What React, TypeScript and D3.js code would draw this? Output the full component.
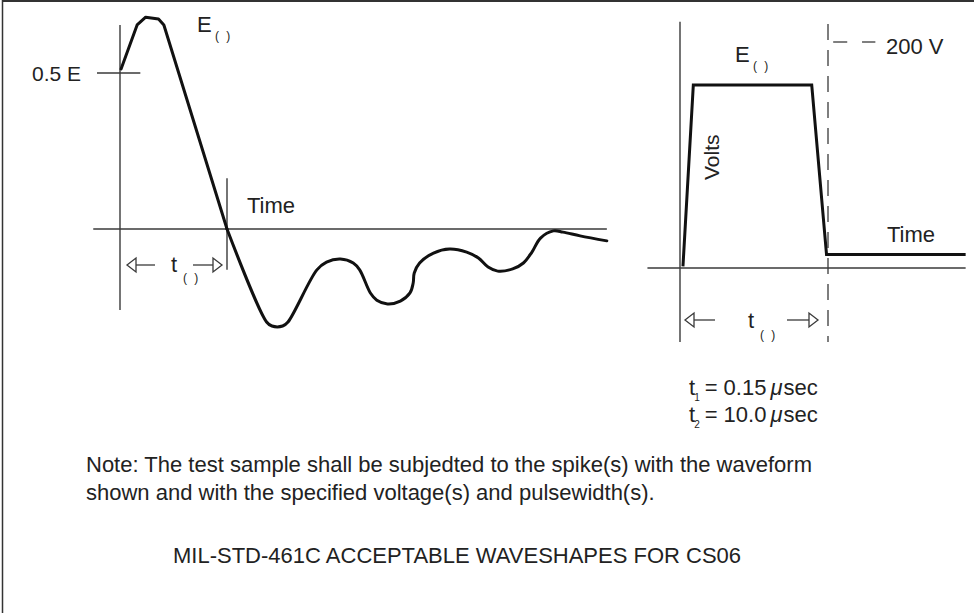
import React from "react";
import * as d3 from "d3";

// ---- Left waveform (damped oscillatory spike), time in units where t(1) crossing = 10, volts where 0.5E = 50
const leftTime = [0.1, 1.6, 2.4, 3.6, 4.1, 10, 13.7, 14.2, 15.2, 15.7, 18.4, 19.3, 20.6, 21.8, 22.4, 23.4, 24.0, 25.0, 26.2, 27.1, 27.4, 27.5, 28.0, 29.3, 30.8, 32.4, 33.5, 34.4, 35.3, 36.7, 37.7, 38.5, 39.3, 40.5, 41.4, 43.0, 45.5];
const leftVolts = [51.3, 65.4, 67.9, 67.3, 65.4, 0, -29.8, -31.1, -31.1, -29.8, -13.1, -10.6, -9.6, -10.9, -13.1, -20.5, -22.8, -24.0, -23.1, -20.5, -17.3, -14.1, -10.9, -7.7, -6.4, -7.4, -9.3, -12.2, -13.5, -12.8, -10.9, -7.4, -2.9, -0.6, -1.0, -2.2, -3.8];
// index where the straight-edged spike ends and the smooth ringing begins (zero crossing)
const ringStart = 5;

// ---- Right waveform (rectangular pulse), time in units where t(2) = 10, volts where dashed level = 200 V
const pulseTime = [0.2, 0.9, 8.9, 9.9, 19.3];
const pulseVolts = [1.5, 162, 162, 12, 12];

const leftLabels = { half: "0.5 E", E: "E", time: "Time", t: "t" };
const rightLabels = { E: "E", level: "200 V", volts: "Volts", time: "Time", t: "t" };
const specNames = ["t", "t"];
const specSubs = ["1", "2"];
const specValues = ["0.15", "10.0"];
const noteLines = [
  "Note: The test sample shall be subjedted to the spike(s) with the waveform",
  "shown and with the specified voltage(s) and pulsewidth(s).",
];
const title = "MIL-STD-461C ACCEPTABLE WAVESHAPES FOR CS06";

const FONT = "'Liberation Sans', Arial, Helvetica, sans-serif";
const INK = "#222";
const AXIS = "#3a3a3a";
const W = 974;
const H = 613;

function ArrowL({ tip, end, y }: { tip: number; end: number; y: number }) {
  const base = tip + 9;
  return (
    <g stroke={AXIS} strokeWidth={1.3} fill="#fff">
      <line x1={base} x2={end} y1={y} y2={y} />
      <path d={`M${tip},${y} L${base},${y - 7} L${base},${y + 7} Z`} />
    </g>
  );
}
function ArrowR({ tip, start, y }: { tip: number; start: number; y: number }) {
  const base = tip - 9;
  return (
    <g stroke={AXIS} strokeWidth={1.3} fill="#fff">
      <line x1={start} x2={base} y1={y} y2={y} />
      <path d={`M${tip},${y} L${base},${y - 7} L${base},${y + 7} Z`} />
    </g>
  );
}
function Sub({ x, y }: { x: number; y: number }) {
  return (
    <text x={x} y={y} fontSize={12} letterSpacing={2} fill={INK}>( )</text>
  );
}

export default function App() {
  const xL = d3.scaleLinear().domain([0, 10]).range([120, 227]);
  const yL = d3.scaleLinear().domain([0, 50]).range([229, 73]);
  const xR = d3.scaleLinear().domain([0, 10]).range([680, 828]);
  const yR = d3.scaleLinear().domain([0, 200]).range([268, 42]);

  const leftPts: [number, number][] = leftTime.map((t, i) => [xL(t), yL(leftVolts[i])]);
  const rightPts: [number, number][] = pulseTime.map((t, i) => [xR(t), yR(pulseVolts[i])]);
  const spikePath = d3.line()(leftPts.slice(0, ringStart + 1)) || "";
  const ringPath = d3.line().curve(d3.curveCatmullRom.alpha(0.5))(leftPts.slice(ringStart)) || "";
  const rightPath = d3.line()(rightPts) || "";

  const fs = 22;

  return (
    <svg
      width={W}
      height={H}
      viewBox={`0 0 ${W} ${H}`}
      style={{ position: "absolute", left: 0, top: 0, background: "#fff" }}
      fontFamily={FONT}
    >
      <rect x={0} y={0} width={W} height={H} fill="#fff" />
      {/* frame */}
      <line x1={2} x2={W} y1={1} y2={1} stroke="#333" strokeWidth={2} />
      <line x1={2.5} x2={2.5} y1={0} y2={H} stroke="#333" strokeWidth={1.5} />

      {/* ---------- left panel ---------- */}
      <g stroke={AXIS} strokeWidth={1.4}>
        <line x1={xL(0)} x2={xL(0)} y1={yL(65.4)} y2={yL(-26)} />
        <line x1={xL(-2.5)} x2={xL(45.5)} y1={yL(0)} y2={yL(0)} />
        <line x1={xL(-2.15)} x2={xL(1.9)} y1={yL(50)} y2={yL(50)} />
        <line x1={xL(10)} x2={xL(10)} y1={yL(16.3)} y2={yL(-13.1)} />
      </g>
      <g fill="none" stroke="#111" strokeWidth={3} strokeLinejoin="round" strokeLinecap="round">
        <path d={spikePath} />
        <path d={ringPath} />
      </g>

      <text x={32} y={81} fontSize={21} fill={INK}>{leftLabels.half}</text>
      <text x={197} y={32} fontSize={fs} fill={INK}>{leftLabels.E}</text>
      <Sub x={215} y={40} />
      <text x={247} y={213} fontSize={fs} fill={INK}>{leftLabels.time}</text>
      <text x={171} y={272} fontSize={fs} fill={INK}>{leftLabels.t}</text>
      <Sub x={183} y={282} />
      <ArrowL tip={xL(0) + 7} end={155} y={265} />
      <ArrowR tip={xL(10) - 5} start={193} y={265} />

      {/* ---------- right panel ---------- */}
      <g stroke={AXIS} strokeWidth={1.4}>
        <line x1={xR(0)} x2={xR(0)} y1={yR(218)} y2={yR(-65.5)} />
        <line x1={xR(-2.2)} x2={xR(19.3)} y1={yR(0)} y2={yR(0)} />
      </g>
      <g stroke={AXIS} strokeWidth={1.3} strokeDasharray="16,10">
        <line x1={xR(10)} x2={xR(10)} y1={yR(216)} y2={yR(-65.5)} />
      </g>
      <g stroke={AXIS} strokeWidth={1.3}>
        <line x1={xR(10.35)} x2={xR(11.3)} y1={yR(200)} y2={yR(200)} />
        <line x1={xR(12.3)} x2={xR(13.2)} y1={yR(200)} y2={yR(200)} />
      </g>
      <path d={rightPath} fill="none" stroke="#111" strokeWidth={3} strokeLinejoin="miter" />

      <text x={735} y={62} fontSize={fs} fill={INK}>{rightLabels.E}</text>
      <Sub x={753} y={70} />
      <text x={886} y={54} fontSize={fs} fill={INK}>{rightLabels.level}</text>
      <text transform="translate(719,180) rotate(-90)" fontSize={21} fill={INK}>{rightLabels.volts}</text>
      <text x={887} y={242} fontSize={fs} fill={INK}>{rightLabels.time}</text>
      <text x={748} y={328} fontSize={fs} fill={INK}>{rightLabels.t}</text>
      <Sub x={760} y={339} />
      <ArrowL tip={xR(0) + 5} end={715} y={320} />
      <ArrowR tip={xR(10) - 10} start={787} y={320} />

      {specNames.map((n, i) => (
        <text key={i} x={689} y={395 + i * 27} fontSize={22} fill={INK}>
          <tspan>{n}</tspan>
          <tspan fontSize={10} dy={6} dx={-1}>{specSubs[i]}</tspan>
          <tspan dy={-6} dx={5}>=</tspan>
          <tspan dx={6}>{specValues[i]}</tspan>
          <tspan dx={4} fontStyle="italic">μ</tspan>
          <tspan dx={1}>sec</tspan>
        </text>
      ))}

      {/* ---------- notes ---------- */}
      {noteLines.map((l, i) => (
        <text key={i} x={86} y={472 + i * 28} fontSize={fs} fill={INK}>{l}</text>
      ))}
      <text x={173} y={563} fontSize={fs} fill={INK}>{title}</text>
    </svg>
  );
}
